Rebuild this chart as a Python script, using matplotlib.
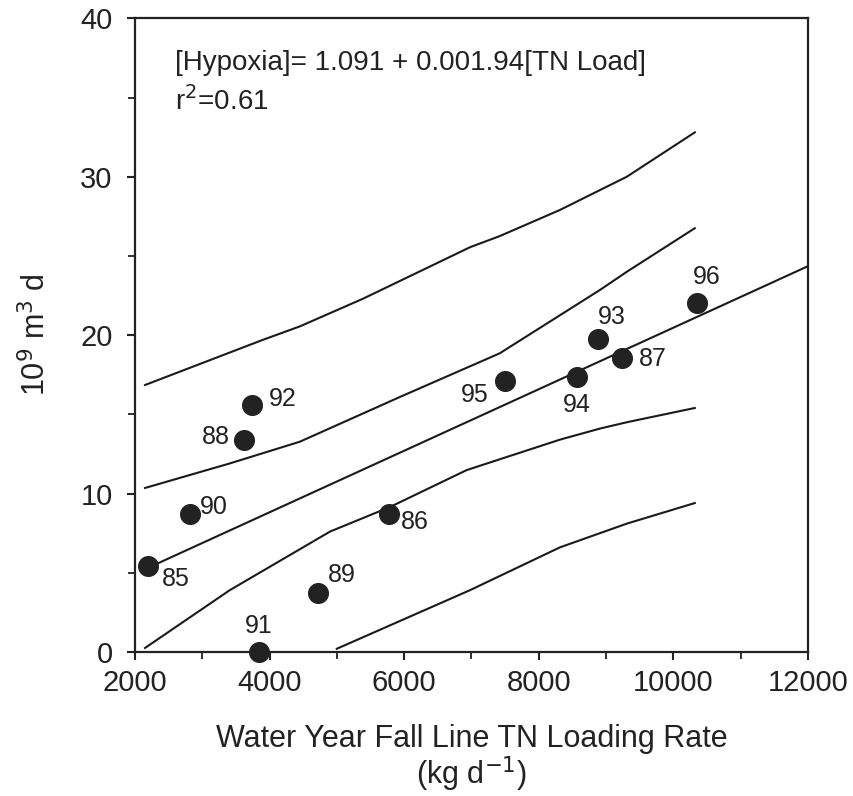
import matplotlib.pyplot as plt
import numpy as np
from matplotlib.ticker import MultipleLocator

plt.rcParams['font.family'] = ['Liberation Sans', 'DejaVu Sans']

# water years and observations
years = ["85", "90", "88", "92", "91", "89", "86", "95", "94", "93", "87", "96"]
tn_load = [2190, 2820, 3620, 3740, 3840, 4720, 5770, 7500, 8570, 8880, 9240, 10350]
hypoxia = [5.4, 8.7, 13.4, 15.6, 0.0, 3.7, 8.7, 17.1, 17.35, 19.75, 18.55, 22.0]

# label offsets (points) for each year label
lab_dx = [20, 17, -20, 22, 0, 17, 19, -22, 0, 10, 22, 7]
lab_dy = [-9, 5, 2, 4, 19, 13, -6, -10, -20, 16, -1, 19]

# regression line
fit_x = [2190, 12000]
fit_y = [5.3, 24.35]

# confidence bands
ci_x = [2150, 3410, 4450, 5940, 7420, 8910, 9310, 10320]
ci_hi = [10.35, 11.9, 13.27, 16.1, 18.85, 22.85, 24.0, 26.75]
ci_lo_x = [2150, 3410, 4900, 5790, 6930, 8315, 8910, 9310, 10320]
ci_lo = [0.25, 3.9, 7.6, 9.15, 11.48, 13.4, 14.1, 14.5, 15.4]

# prediction bands
pi_hi_x = [2150, 3900, 4450, 5390, 6980, 7420, 8315, 9310, 10320]
pi_hi = [16.85, 19.7, 20.55, 22.3, 25.55, 26.25, 27.9, 30.0, 32.8]
pi_lo_x = [5000, 6980, 8315, 9310, 10320]
pi_lo = [0.2, 3.9, 6.6, 8.1, 9.4]

fig = plt.figure(figsize=(8.54, 7.96), dpi=100)
ax = fig.add_axes([0.158, 0.181, 0.788, 0.796])

lc = "#1a1a1a"
ax.plot(fit_x, fit_y, c=lc, lw=1.5)
ax.plot(ci_x, ci_hi, c=lc, lw=1.5)
ax.plot(ci_lo_x, ci_lo, c=lc, lw=1.5)
ax.plot(pi_hi_x, pi_hi, c=lc, lw=1.5)
ax.plot(pi_lo_x, pi_lo, c=lc, lw=1.5)

ax.scatter(tn_load, hypoxia, s=200, c="#222222", zorder=5, clip_on=False)
for i in range(len(years)):
    ax.annotate(years[i], (tn_load[i], hypoxia[i]), xytext=(lab_dx[i], lab_dy[i]),
                textcoords="offset points", ha="center", va="center", fontsize=18, color="#222222")

ax.text(0.059, 0.93, "[Hypoxia]= 1.091 + 0.001.94[TN Load]", transform=ax.transAxes,
        fontsize=20, va="center", ha="left", color="#222222")
ax.text(0.059, 0.87, "r$^2$=0.61", transform=ax.transAxes,
        fontsize=20, va="center", ha="left", color="#222222")

ax.set_xlim(2000, 12000)
ax.set_ylim(0, 40)
ax.xaxis.set_major_locator(MultipleLocator(2000))
ax.xaxis.set_minor_locator(MultipleLocator(1000))
ax.yaxis.set_major_locator(MultipleLocator(10))
ax.yaxis.set_minor_locator(MultipleLocator(5))
ax.tick_params(which="major", direction="out", length=6, width=1.5, labelsize=21, colors="#222222")
ax.tick_params(axis="x", which="major", pad=6)
ax.tick_params(axis="y", which="major", pad=10)
ax.tick_params(which="minor", direction="out", length=5, width=1.3, colors="#222222")
for sp in ax.spines.values():
    sp.set_linewidth(1.6)
    sp.set_color("#222222")

ax.set_xlabel("Water Year Fall Line TN Loading Rate\n(kg d$^{-1}$)", fontsize=22, labelpad=20,
              color="#222222", linespacing=1.0)
ax.set_ylabel("10$^9$ m$^3$ d", fontsize=22, labelpad=20, color="#222222")

plt.savefig("out.png", dpi=100)
